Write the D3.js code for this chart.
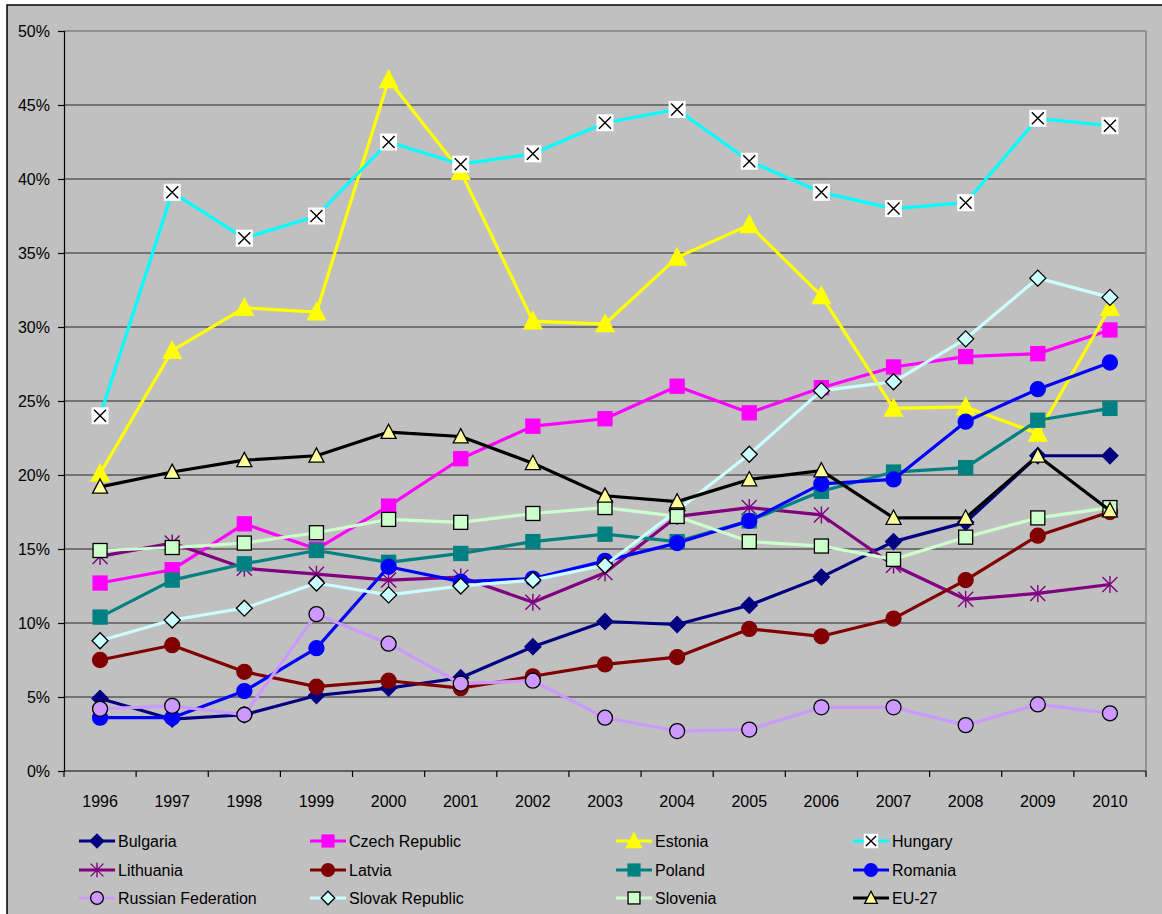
<!DOCTYPE html>
<html>
<head>
<meta charset="utf-8">
<script src="https://cdn.jsdelivr.net/npm/d3@7/dist/d3.min.js"></script>
<style>
  html, body { margin: 0; padding: 0; background: #ffffff; }
  svg { display: block; font-family: "Liberation Sans", Arial, sans-serif; }
</style>
</head>
<body>
<svg id="chart" width="1162" height="914"></svg>
<script>
// Years on the category axis
const years = ["1996","1997","1998","1999","2000","2001","2002","2003","2004","2005","2006","2007","2008","2009","2010"];

// Share per country (percent)
const bulgaria  = [4.9, 3.5, 3.8, 5.1, 5.6, 6.3, 8.4, 10.1, 9.9, 11.2, 13.1, 15.5, 16.8, 21.3, 21.3];
const czech     = [12.7, 13.6, 16.7, 15.0, 17.9, 21.1, 23.3, 23.8, 26.0, 24.2, 25.9, 27.3, 28.0, 28.2, 29.8];
const estonia   = [20.1, 28.4, 31.3, 31.0, 46.7, 40.5, 30.4, 30.2, 34.7, 36.9, 32.1, 24.5, 24.6, 22.8, 31.3];
const hungary   = [24.0, 39.1, 36.0, 37.5, 42.5, 41.0, 41.7, 43.8, 44.7, 41.2, 39.1, 38.0, 38.4, 44.1, 43.6];
const lithuania = [14.5, 15.4, 13.7, 13.3, 12.9, 13.1, 11.4, 13.4, 17.2, 17.8, 17.3, 13.9, 11.6, 12.0, 12.6];
const latvia    = [7.5, 8.5, 6.7, 5.7, 6.1, 5.6, 6.4, 7.2, 7.7, 9.6, 9.1, 10.3, 12.9, 15.9, 17.5];
const poland    = [10.4, 12.9, 14.0, 14.9, 14.1, 14.7, 15.5, 16.0, 15.5, 16.9, 18.9, 20.2, 20.5, 23.7, 24.5];
const romania   = [3.6, 3.6, 5.4, 8.3, 13.8, 12.8, 13.0, 14.2, 15.4, 16.9, 19.4, 19.7, 23.6, 25.8, 27.6];
const russia    = [4.2, 4.4, 3.8, 10.6, 8.6, 5.9, 6.1, 3.6, 2.7, 2.8, 4.3, 4.3, 3.1, 4.5, 3.9];
const slovak    = [8.8, 10.2, 11.0, 12.7, 11.9, 12.5, 12.9, 13.9, 17.6, 21.4, 25.7, 26.3, 29.2, 33.3, 32.0];
const slovenia  = [14.9, 15.1, 15.4, 16.1, 17.0, 16.8, 17.4, 17.8, 17.2, 15.5, 15.2, 14.3, 15.8, 17.1, 17.8];
const eu27      = [19.2, 20.2, 21.0, 21.3, 22.9, 22.6, 20.8, 18.6, 18.2, 19.7, 20.3, 17.1, 17.1, 21.3, 17.6];

// Value axis ticks
const yTicks = [0, 5, 10, 15, 20, 25, 30, 35, 40, 45, 50];

// Series styling: line colour, marker type, marker fill, marker stroke
const series = [
  { name: "Bulgaria",           values: bulgaria,  color: "#000080", marker: "diamond",  fill: "#000080", stroke: "#000080" },
  { name: "Czech Republic",     values: czech,     color: "#ff00ff", marker: "square",   fill: "#ff00ff", stroke: "#ff00ff" },
  { name: "Estonia",            values: estonia,   color: "#ffff00", marker: "triangle", fill: "#ffff00", stroke: "#ffff00", big: true },
  { name: "Hungary",            values: hungary,   color: "#00ffff", marker: "xbox",     fill: "#ffffff", stroke: "#000000" },
  { name: "Lithuania",          values: lithuania, color: "#800080", marker: "star",     fill: "none",    stroke: "#800080" },
  { name: "Latvia",             values: latvia,    color: "#800000", marker: "circle",   fill: "#800000", stroke: "#800000" },
  { name: "Poland",             values: poland,    color: "#008080", marker: "square",   fill: "#008080", stroke: "#008080" },
  { name: "Romania",            values: romania,   color: "#0000ff", marker: "circle",   fill: "#0000ff", stroke: "#0000ff" },
  { name: "Russian Federation", values: russia,    color: "#cc99ff", marker: "circle",   fill: "#cc99ff", stroke: "#000000" },
  { name: "Slovak Republic",    values: slovak,    color: "#ccffff", marker: "diamond",  fill: "#ccffff", stroke: "#000000" },
  { name: "Slovenia",           values: slovenia,  color: "#ccffcc", marker: "square",   fill: "#ccffcc", stroke: "#000000" },
  { name: "EU-27",              values: eu27,      color: "#000000", marker: "triangle", fill: "#ffff99", stroke: "#000000" }
];

const svg = d3.select("#chart");

// Chart background and frame
svg.append("rect")
  .attr("x", 7).attr("y", 5).attr("width", 1160).attr("height", 914)
  .attr("fill", "#c0c0c0").attr("stroke", "#000").attr("stroke-width", 1.5);

const plot = { left: 64, right: 1146, top: 31, bottom: 771 };

const x = d3.scaleBand().domain(years).range([plot.left, plot.right]).padding(0);
const y = d3.scaleLinear().domain([0, 50]).range([plot.bottom, plot.top]);
const cx = d => x(d) + x.bandwidth() / 2;

// Horizontal gridlines
svg.append("g").selectAll("line")
  .data(yTicks.filter(t => t > 0))
  .join("line")
  .attr("x1", plot.left).attr("x2", plot.right)
  .attr("y1", d => y(d)).attr("y2", d => y(d))
  .attr("stroke", d => d === 50 ? "#808080" : "#5a5a5a")
  .attr("stroke-width", 1.4);

// Plot area right edge
svg.append("line")
  .attr("x1", plot.right).attr("x2", plot.right)
  .attr("y1", plot.top).attr("y2", plot.bottom)
  .attr("stroke", "#808080").attr("stroke-width", 1.4);

// Value axis
const yAxis = d3.axisLeft(y).tickValues(yTicks).tickFormat(d => d + "%").tickSize(6).tickPadding(8);
const gy = svg.append("g").attr("transform", `translate(${plot.left},0)`).call(yAxis);
gy.select(".domain").attr("stroke", "#000").attr("stroke-width", 1.2);
gy.selectAll(".tick line").attr("stroke", "#000").attr("stroke-width", 1.2);
gy.selectAll(".tick text").attr("font-size", 16).attr("fill", "#000")
  .attr("font-family", "Liberation Sans, Arial, sans-serif");

// Category axis: ticks between categories, labels centred under each year
const gx = svg.append("g").attr("transform", `translate(0,${plot.bottom})`);
gx.append("line").attr("x1", plot.left).attr("x2", plot.right).attr("y1", 0).attr("y2", 0)
  .attr("stroke", "#000").attr("stroke-width", 1.2);
const boundaries = years.map(d => x(d)).concat([plot.right]);
gx.selectAll("line.tk").data(boundaries).join("line").attr("class", "tk")
  .attr("x1", d => d).attr("x2", d => d).attr("y1", 0).attr("y2", 6)
  .attr("stroke", "#000").attr("stroke-width", 1.2);
gx.selectAll("text").data(years).join("text")
  .attr("x", d => cx(d)).attr("y", 36)
  .attr("text-anchor", "middle").attr("font-size", 16).attr("fill", "#000")
  .text(d => d);

// Marker drawing
function drawMarker(g, s, px, py, scale) {
  const k = scale || 1;
  if (s.marker === "diamond") {
    const r = 8 * k;
    g.append("path").attr("d", `M${px},${py - r}L${px + r},${py}L${px},${py + r}L${px - r},${py}Z`)
      .attr("fill", s.fill).attr("stroke", s.stroke).attr("stroke-width", 1.3);
  } else if (s.marker === "square") {
    const h = 7 * k;
    g.append("rect").attr("x", px - h).attr("y", py - h).attr("width", 2 * h).attr("height", 2 * h)
      .attr("fill", s.fill).attr("stroke", s.stroke).attr("stroke-width", 1.3);
  } else if (s.marker === "triangle") {
    const h = (s.big ? 9 : 7.5) * k;
    g.append("path").attr("d", `M${px},${py - h * 1.05}L${px + h},${py + h * 0.85}L${px - h},${py + h * 0.85}Z`)
      .attr("fill", s.fill).attr("stroke", s.stroke).attr("stroke-width", 1.3);
  } else if (s.marker === "circle") {
    g.append("circle").attr("cx", px).attr("cy", py).attr("r", 7.5 * k)
      .attr("fill", s.fill).attr("stroke", s.stroke).attr("stroke-width", 1.3);
  } else if (s.marker === "xbox") {
    const h = 8.5 * k;
    g.append("rect").attr("x", px - h).attr("y", py - h).attr("width", 2 * h).attr("height", 2 * h)
      .attr("fill", s.fill);
    const a = 6 * k;
    g.append("path").attr("d", `M${px - a},${py - a}L${px + a},${py + a}M${px + a},${py - a}L${px - a},${py + a}`)
      .attr("stroke", s.stroke).attr("stroke-width", 1.4);
  } else if (s.marker === "star") {
    const a = 7.5 * k, b = 8.5 * k;
    g.append("path").attr("d",
      `M${px - a},${py - a}L${px + a},${py + a}M${px + a},${py - a}L${px - a},${py + a}M${px},${py - b}L${px},${py + b}`)
      .attr("stroke", s.stroke).attr("stroke-width", 1.4).attr("fill", "none");
  }
}

const line = d3.line().x(d => cx(d.year)).y(d => y(d.v));

// Series, drawn in legend order
series.forEach(s => {
  const pts = years.map((yr, i) => ({ year: yr, v: s.values[i] }));
  const g = svg.append("g");
  g.append("path").datum(pts).attr("d", line)
    .attr("fill", "none").attr("stroke", s.color).attr("stroke-width", 3.2)
    .attr("stroke-linejoin", "round");
  pts.forEach(p => drawMarker(g, s, cx(p.year), y(p.v)));
});

// Legend: four columns, three rows
const legendCols = [79, 310, 616, 853];
const legendRows = [841, 870, 898];
const lg = svg.append("g");
series.forEach((s, i) => {
  const col = i % 4, row = Math.floor(i / 4);
  const lx = legendCols[col], ly = legendRows[row];
  lg.append("line").attr("x1", lx).attr("x2", lx + 36).attr("y1", ly).attr("y2", ly)
    .attr("stroke", s.color).attr("stroke-width", 3.2);
  drawMarker(lg, s, lx + 18, ly, 0.85);
  lg.append("text").attr("x", lx + 39).attr("y", ly + 6)
    .attr("font-size", 16).attr("fill", "#000").text(s.name);
});
</script>
</body>
</html>
